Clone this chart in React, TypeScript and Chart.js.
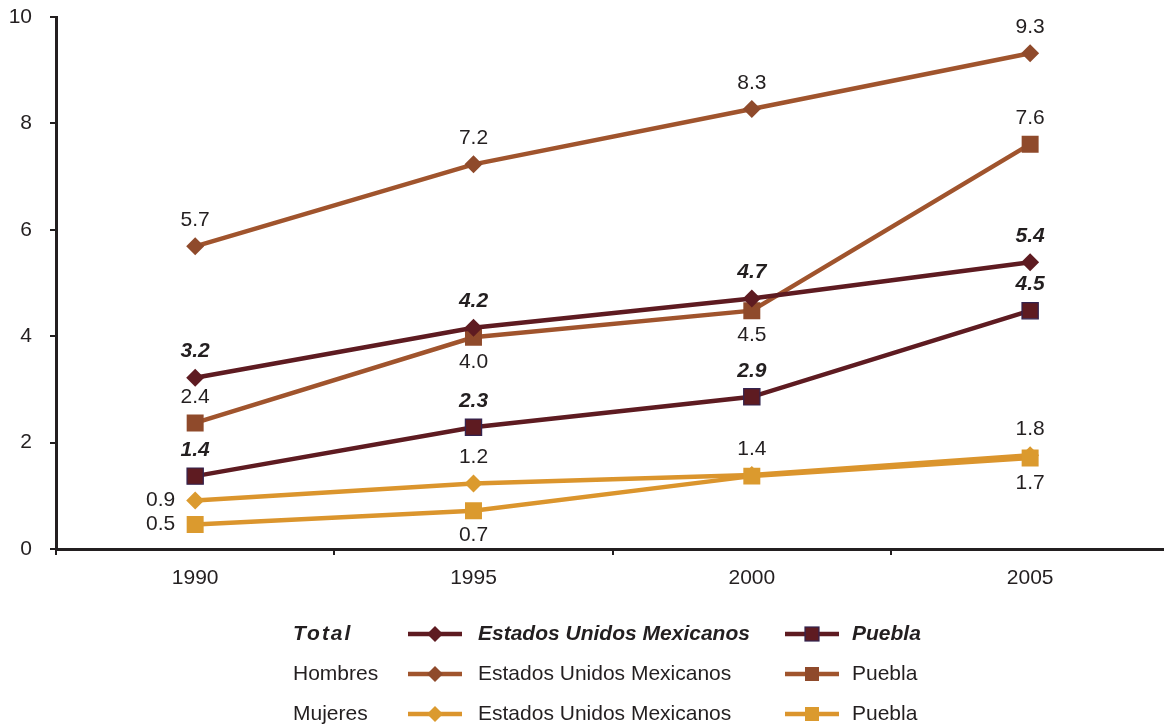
import React, { useEffect, useRef } from 'react';
import { Chart, registerables } from 'chart.js';

Chart.register(...registerables);

// ---- data ----
const years = ['1990', '1995', '2000', '2005'];
const yTicks = [0, 2, 4, 6, 8, 10];
const totalEUM = [3.22, 4.16, 4.71, 5.39];
const totalPuebla = [1.37, 2.29, 2.86, 4.48];
const hombresEUM = [5.69, 7.23, 8.27, 9.32];
const hombresPuebla = [2.37, 3.98, 4.48, 7.61];
const mujeresEUM = [0.91, 1.23, 1.39, 1.76];
const mujeresPuebla = [0.46, 0.72, 1.37, 1.71];
const rowNames = ['Total', 'Hombres', 'Mujeres'];
const seriesNames = ['Estados Unidos Mexicanos', 'Puebla'];

// ---- styles ----
const FONT = '"Liberation Sans", Arial, Helvetica, sans-serif';
const INK = '#231F20';
const C_TOTAL = '#5E1B21';
const C_TOTAL_BORDER = '#33234F';
const C_HOMBRES = '#A0542D';
const C_HOMBRES_MK = '#8F4A2B';
const C_MUJERES = '#DB952D';
const C_MUJERES_MK = '#DB9A2E';

type LabelPos = 'top' | 'bottom' | 'left' | 'none';

const valueLabels = {
  id: 'valueLabels',
  afterDatasetsDraw(chart: any) {
    const ctx = chart.ctx;
    ctx.save();
    chart.data.datasets.forEach((ds: any, di: number) => {
      const meta = chart.getDatasetMeta(di);
      meta.data.forEach((pt: any, i: number) => {
        const pos: LabelPos = ds.labelPos[i];
        if (pos === 'none') return;
        const text = Number(ds.data[i]).toFixed(1);
        ctx.font = (ds.labelBold ? 'italic bold ' : '') + '21px ' + FONT;
        ctx.fillStyle = INK;
        ctx.textBaseline = 'middle';
        if (pos === 'top') {
          ctx.textAlign = 'center';
          ctx.fillText(text, pt.x, pt.y - 26);
        } else if (pos === 'bottom') {
          ctx.textAlign = 'center';
          ctx.fillText(text, pt.x, pt.y + 25);
        } else {
          ctx.textAlign = 'right';
          ctx.fillText(text, pt.x - 20, pt.y);
        }
      });
    });
    ctx.restore();
  },
};

const legendRows = [
  { bold: true, line: C_TOTAL, mk: C_TOTAL, sqBorder: C_TOTAL_BORDER },
  { bold: false, line: C_HOMBRES, mk: C_HOMBRES_MK, sqBorder: C_HOMBRES_MK },
  { bold: false, line: C_MUJERES, mk: C_MUJERES_MK, sqBorder: C_MUJERES_MK },
];

const customLegend = {
  id: 'customLegend',
  afterDraw(chart: any) {
    const ctx = chart.ctx;
    ctx.save();
    legendRows.forEach((row, r) => {
      const y = 634 + r * 40;
      ctx.textBaseline = 'middle';
      ctx.textAlign = 'left';
      ctx.fillStyle = INK;
      const f = (row.bold ? 'italic bold ' : '') + '21px ' + FONT;
      ctx.font = f;
      if (r === 0 && 'letterSpacing' in ctx) (ctx as any).letterSpacing = '2px';
      ctx.fillText(rowNames[r], 293, y);
      if ('letterSpacing' in ctx) (ctx as any).letterSpacing = '0px';
      // sample 1: line + diamond
      ctx.strokeStyle = row.line;
      ctx.lineWidth = 4.5;
      ctx.beginPath();
      ctx.moveTo(408, y);
      ctx.lineTo(462, y);
      ctx.stroke();
      ctx.fillStyle = row.mk;
      ctx.beginPath();
      ctx.moveTo(435, y - 8);
      ctx.lineTo(443, y);
      ctx.lineTo(435, y + 8);
      ctx.lineTo(427, y);
      ctx.closePath();
      ctx.fill();
      ctx.fillStyle = INK;
      ctx.font = f;
      ctx.fillText(seriesNames[0], 478, y);
      // sample 2: line + square
      ctx.strokeStyle = row.line;
      ctx.lineWidth = 4.5;
      ctx.beginPath();
      ctx.moveTo(785, y);
      ctx.lineTo(839, y);
      ctx.stroke();
      ctx.fillStyle = row.mk;
      ctx.fillRect(805, y - 7, 14, 14);
      if (r === 0) {
        ctx.strokeStyle = row.sqBorder;
        ctx.lineWidth = 1.2;
        ctx.strokeRect(805, y - 7, 14, 14);
      }
      ctx.fillStyle = INK;
      ctx.font = f;
      ctx.fillText(seriesNames[1], 852, y);
    });
    ctx.restore();
  },
};

export default function App() {
  const ref = useRef<HTMLCanvasElement | null>(null);

  useEffect(() => {
    document.body.style.margin = '0';
    if (!ref.current) return;
    const mk = (
      label: string,
      data: number[],
      line: string,
      fill: string,
      border: string,
      style: string,
      radius: number,
      labelPos: LabelPos[],
      labelBold: boolean,
      order: number,
      bw: number
    ): any => ({
      label,
      data,
      borderColor: line,
      backgroundColor: fill,
      pointBackgroundColor: fill,
      pointBorderColor: border,
      pointBorderWidth: bw,
      pointStyle: style,
      pointRadius: radius,
      pointHoverRadius: radius,
      borderWidth: 4.5,
      tension: 0,
      fill: false,
      labelPos,
      labelBold,
      order,
    });

    const chart = new Chart(ref.current, {
      type: 'line',
      data: {
        labels: years,
        datasets: [
          mk('Total EUM', totalEUM, C_TOTAL, C_TOTAL, C_TOTAL, 'rectRot', 9, ['top', 'top', 'top', 'top'], true, 1, 0),
          mk('Total Puebla', totalPuebla, C_TOTAL, C_TOTAL, C_TOTAL_BORDER, 'rect', 11.5, ['top', 'top', 'top', 'top'], true, 2, 1.2),
          mk('Hombres EUM', hombresEUM, C_HOMBRES, C_HOMBRES_MK, C_HOMBRES_MK, 'rectRot', 9, ['top', 'top', 'top', 'top'], false, 3, 0),
          mk('Hombres Puebla', hombresPuebla, C_HOMBRES, C_HOMBRES_MK, C_HOMBRES_MK, 'rect', 12, ['top', 'bottom', 'bottom', 'top'], false, 4, 0),
          mk('Mujeres Puebla', mujeresPuebla, C_MUJERES, C_MUJERES_MK, C_MUJERES_MK, 'rect', 12, ['left', 'bottom', 'none', 'bottom'], false, 5, 0),
          mk('Mujeres EUM', mujeresEUM, C_MUJERES, C_MUJERES_MK, C_MUJERES_MK, 'rectRot', 9, ['left', 'top', 'top', 'top'], false, 6, 0),
        ],
      },
      options: {
        animation: false,
        responsive: false,
        devicePixelRatio: 1,
        layout: { padding: { top: 17, right: 4, bottom: 138, left: 0 } },
        plugins: { legend: { display: false }, tooltip: { enabled: false } },
        scales: {
          x: {
            type: 'category',
            offset: true,
            grid: {
              offset: true,
              drawOnChartArea: false,
              drawTicks: true,
              tickLength: 6,
              color: INK,
              lineWidth: 2,
            },
            border: { display: true, color: INK, width: 3 },
            ticks: {
              autoSkip: false,
              maxRotation: 0,
              padding: 11,
              color: INK,
              font: { family: FONT, size: 21 },
            },
            afterFit: (s: any) => {
              s.height = 40;
            },
          },
          y: {
            min: 0,
            max: 10,
            afterBuildTicks: (s: any) => {
              s.ticks = yTicks.map((v) => ({ value: v }));
            },
            grid: {
              drawOnChartArea: false,
              drawTicks: true,
              tickLength: 6,
              color: INK,
              lineWidth: 2,
            },
            border: { display: true, color: INK, width: 3 },
            ticks: {
              padding: 18,
              color: INK,
              font: { family: FONT, size: 21 },
            },
            afterFit: (s: any) => {
              s.width = 56;
              s.paddingTop = 0;
              s.paddingBottom = 0;
            },
          },
        },
      } as any,
      plugins: [valueLabels, customLegend],
    });
    return () => chart.destroy();
  }, []);

  return (
    <div style={{ width: 1164, height: 727, overflow: 'hidden', background: '#fff' }}>
      <canvas ref={ref} width={1182} height={727} style={{ display: 'block' }} />
    </div>
  );
}
